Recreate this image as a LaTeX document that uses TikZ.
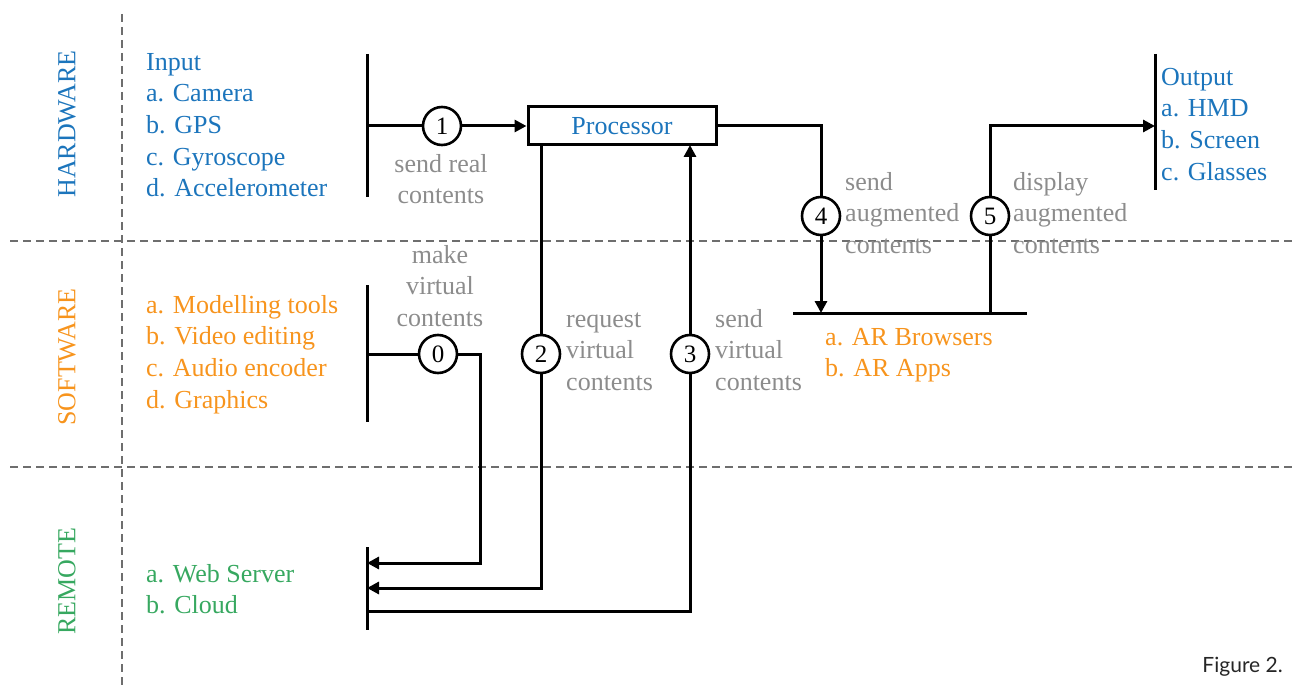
\documentclass[tikz,border=0pt]{standalone}
\usepackage{fontspec}
\setmainfont{Liberation Serif}
\newfontfamily\figfont{Lato}
\usetikzlibrary{arrows.meta}
\definecolor{hwblue}{RGB}{28,117,188}
\definecolor{swor}{RGB}{247,148,29}
\definecolor{rmgreen}{RGB}{55,168,96}
\definecolor{labgray}{RGB}{140,140,140}
\definecolor{sepgray}{RGB}{110,110,110}
\begin{document}
\begin{tikzpicture}[x=1pt,y=-1pt,
  txt/.style={font=\fontsize{26}{31.7}\selectfont, inner sep=0pt, align=left, anchor=north west},
  lbl/.style={font=\fontsize{26}{31.7}\selectfont, text=labgray, inner sep=0pt, align=center, anchor=north},
  lbll/.style={lbl, align=left, anchor=north west},
  side/.style={rotate=90, inner sep=0pt, font=\fontsize{26}{31.7}\selectfont},
  num/.style={circle, draw, line width=2.6pt, minimum size=38pt, inner sep=0pt, fill=white, font=\fontsize{25}{30}\selectfont},
  conn/.style={line width=3pt},
  arr/.style={conn, -{Triangle[length=12pt,width=12pt]}},
  barline/.style={line width=3pt},
  sep/.style={draw=sepgray, line width=1.4pt, dash pattern=on 8pt off 5pt}]
\useasboundingbox (0,0) rectangle (1293,690);

% separators
\draw[sep] (122,14) -- (122,690);
\draw[sep] (10,241) -- (1293,241);
\draw[sep] (10,467) -- (1293,467);

% side labels
\node[side, text=hwblue] (hw) at (67,124) {HARDWARE};
\node[side, text=swor] (sw) at (67,357) {SOFTWARE};
\node[side, text=rmgreen] (rm) at (67,581) {REMOTE};

% lists
\node[txt, text=hwblue] (input) at (146,47.8) {\strut Input\\a. Camera\\b. GPS\\c. Gyroscope\\d. Accelerometer};
\node[txt, text=swor] (softl) at (146,290.8) {\strut a. Modelling tools\\b. Video editing\\c. Audio encoder\\d. Graphics};
\node[txt, text=rmgreen] (remotel) at (146,559.8) {\strut a. Web Server\\b. Cloud};
\node[txt, text=hwblue] (outputl) at (1161,62.8) {\strut Output\\a. HMD\\b. Screen\\c. Glasses};
\node[txt, text=swor] (arl) at (825,322.8) {\strut a. AR Browsers\\b. AR Apps};

% bars
\coordinate (inT) at (367,54);   \coordinate (inB) at (367,197);
\coordinate (swT) at (367,285);  \coordinate (swB) at (367,422);
\coordinate (rmT) at (367,547);  \coordinate (rmB) at (367,630);
\coordinate (outT) at (1155,54); \coordinate (outB) at (1155,190);
\coordinate (arL) at (793,313);  \coordinate (arR) at (1027,313);
\draw[barline] (inT) -- (inB);
\draw[barline] (swT) -- (swB);
\draw[barline] (rmT) -- (rmB);
\draw[barline] (outT) -- (outB);
\draw[barline] (arL) -- (arR);

% processor
\node[draw, line width=3pt, minimum width=188pt, minimum height=38pt, inner sep=0pt,
      text=hwblue, font=\fontsize{26}{31.7}\selectfont] (proc) at (622,126) {Processor};

% numbered circles
\node[num] (c1) at (442,126) {1};
\node[num] (c0) at (438,354) {0};
\node[num] (c2) at (541,354) {2};
\node[num] (c3) at (690,354) {3};
\node[num] (c4) at (821,216) {4};
\node[num] (c5) at (990,216) {5};

% helper coordinates
\coordinate (inM) at (367,126);
\coordinate (swM) at (367,354);
\coordinate (k0) at (480,563);
\coordinate (r0) at (367,563);
\coordinate (r2) at (367,588);
\coordinate (r3) at (367,611);
\coordinate (p2) at (541,145);
\coordinate (p3) at (690,145);
\coordinate (a4) at (821,313);
\coordinate (a5) at (990,313);
\coordinate (o5) at (1155,126);

% connectors
\draw[conn] (inM) -- (c1.west);
\draw[arr] (c1.east) -- (proc.west);
\draw[conn] (swM) -- (c0.west);
\draw[arr] (c0.east) -| (k0) -- (r0);
\draw[conn] (p2) -- (c2.north);
\draw[arr] (c2.south) |- (r2);
\draw[conn] (r3) -| (c3.south);
\draw[arr] (c3.north) -- (p3);
\draw[conn] (proc.east) -| (c4.north);
\draw[arr] (c4.south) -- (a4);
\draw[conn] (a5) -- (c5.south);
\draw[arr] (c5.north) |- (o5);

% connector labels
\node[lbl] (l1) at (441,149.8) {\strut send real\\contents};
\node[lbl] (l0) at (440,240.8) {\strut make\\virtual\\contents};
\node[lbll] (l2) at (566,304.8) {\strut request\\virtual\\contents};
\node[lbll] (l3) at (715,304.8) {\strut send\\virtual\\contents};
\node[lbll] (l4) at (845,167.8) {\strut send\\augmented\\contents};
\node[lbll] (l5) at (1013,167.8) {\strut display\\augmented\\contents};

% caption
\node[anchor=base east, inner sep=0pt, font=\figfont\fontsize{21}{25}\selectfont, text=black!85] (fig) at (1283,672) {Figure 2.};
\end{tikzpicture}
\end{document}
